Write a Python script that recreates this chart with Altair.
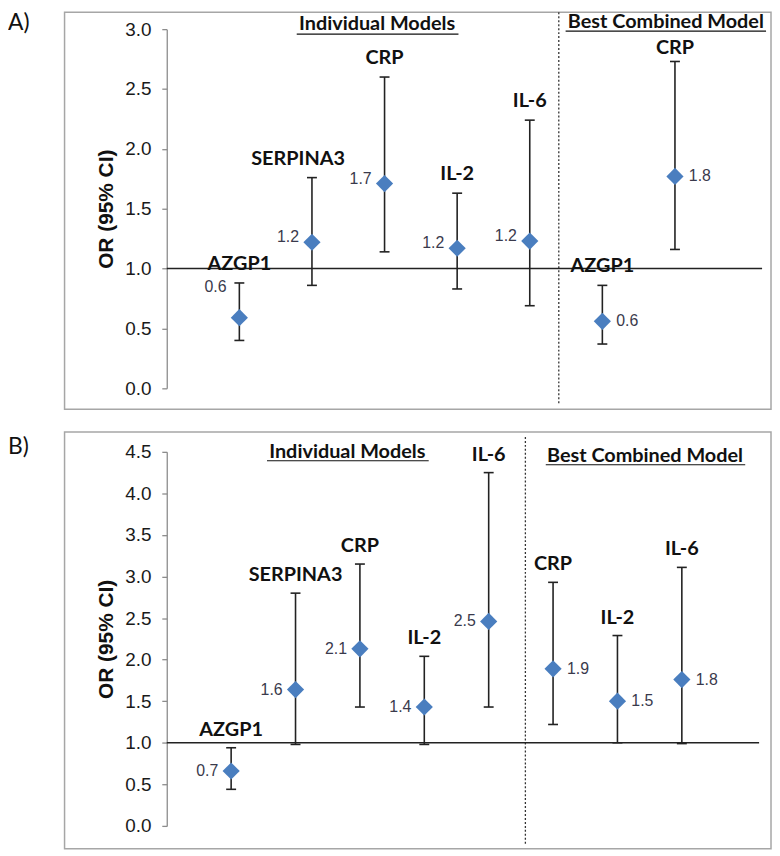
import altair as alt
import pandas as pd

# ---------------- data ----------------
A_names = ["AZGP1", "SERPINA3", "CRP", "IL-2", "IL-6", "AZGP1", "CRP"]
A_or = [0.59, 1.22, 1.71, 1.17, 1.23, 0.56, 1.77]
A_lo = [0.40, 0.86, 1.14, 0.83, 0.69, 0.37, 1.16]
A_hi = [0.88, 1.76, 2.60, 1.63, 2.24, 0.86, 2.73]
A_n_individual = 5

B_names = ["AZGP1", "SERPINA3", "CRP", "IL-2", "IL-6", "CRP", "IL-2", "IL-6"]
B_or = [0.66, 1.64, 2.13, 1.43, 2.46, 1.89, 1.50, 1.76]
B_lo = [0.44, 0.98, 1.43, 0.98, 1.43, 1.22, 1.00, 0.99]
B_hi = [0.94, 2.80, 3.15, 2.04, 4.25, 2.93, 2.29, 3.11]
B_n_individual = 5

A_ticks = [0.0, 0.5, 1.0, 1.5, 2.0, 2.5, 3.0]
B_ticks = [0.0, 0.5, 1.0, 1.5, 2.0, 2.5, 3.0, 3.5, 4.0, 4.5]

HEADER_IND = "Individual Models"
HEADER_COMB = "Best Combined Model"
Y_TITLE = "OR (95% CI)"

BOLD_FONT = "Lato"
NUM_FONT = "Liberation Sans"
BLUE = "#4a7ebf"
DARK = "#222222"


def panel(letter, names, orv, lo, hi, n_ind, ticks, xmax, width, height,
          border, dash_x, dash_y, hdr, letter_y, name_dy, ind_dy, special_first,
          name_adjust):
    df = pd.DataFrame({
        "name": names,
        "or": orv,
        "lo": lo,
        "hi": hi,
        "x": list(range(1, len(names) + 1)),
        "group": ["Individual" if i < n_ind else "Combined" for i in range(len(names))],
        "idx": list(range(len(names))),
    })
    ymax = ticks[-1]
    xs = alt.Scale(domain=[0, xmax], nice=False, zero=False)
    ys = alt.Scale(domain=[0, ymax], nice=False)
    yaxis = alt.Axis(values=ticks, format=".1f", title=Y_TITLE, grid=False,
                     labelFont=NUM_FONT, labelFontSize=19, labelColor="#1a1a1a",
                     labelPadding=11, tickSize=5, tickColor="#8c8c8c",
                     domainColor="#8c8c8c", domainWidth=1.3, tickWidth=1.3,
                     titleFont=NUM_FONT, titleFontSize=21, titleFontWeight="bold",
                     titleColor="#111111", titlePadding=8)

    def X(f="x"):
        return alt.X(f"{f}:Q", scale=xs, axis=None)

    def Y(f):
        return alt.Y(f"{f}:Q", scale=ys, axis=yaxis)

    base = alt.Chart(df)
    one = alt.Chart(pd.DataFrame({"k": [0]}))

    bx0, bx1, by0, by1 = border
    border_l = one.mark_rect(fillOpacity=0, stroke="#a6a6a6", strokeWidth=1.5).encode(
        x=alt.value(bx0), x2=alt.value(bx1), y=alt.value(by0), y2=alt.value(by1))

    dash = one.mark_rule(color="#333333", strokeWidth=1.3, strokeDash=[2, 2]).encode(
        x=alt.X(datum=dash_x, scale=xs, axis=None),
        y=alt.value(dash_y[0]), y2=alt.value(dash_y[1]))

    hline = one.mark_rule(color=DARK, strokeWidth=1.5).encode(
        y=alt.Y(datum=1.0, scale=ys, axis=yaxis),
        x=alt.value(0), x2=alt.value(width))

    bars = base.mark_rule(color=DARK, strokeWidth=1.6).encode(
        x=X(), y=Y("lo"), y2="hi:Q")
    cap_lo = base.mark_rule(color=DARK, strokeWidth=1.6, xOffset=-5, x2Offset=5).encode(
        x=X(), x2="x:Q", y=Y("lo"))
    cap_hi = base.mark_rule(color=DARK, strokeWidth=1.6, xOffset=-5, x2Offset=5).encode(
        x=X(), x2="x:Q", y=Y("hi"))

    pts = base.mark_point(shape="diamond", filled=True, size=300, color=BLUE,
                          opacity=1).encode(x=X(), y=Y("or"))

    lab_style = dict(font=NUM_FONT, fontSize=16, color="#3a3a4c", baseline="middle")
    if special_first:
        ind_filter = "datum.group == 'Individual' && datum.idx > 0"
    else:
        ind_filter = "datum.group == 'Individual'"
    val_ind = base.transform_filter(ind_filter).mark_text(
        align="right", dx=-13, dy=ind_dy, **lab_style).encode(
        x=X(), y=Y("or"), text=alt.Text("or:Q", format=".1f"))
    val_comb = base.transform_filter("datum.group == 'Combined'").mark_text(
        align="left", dx=14, **lab_style).encode(
        x=X(), y=Y("or"), text=alt.Text("or:Q", format=".1f"))
    layers_extra = []
    if special_first:
        layers_extra.append(base.transform_filter("datum.idx == 0").mark_text(
            align="right", dx=-13, dy=4, **lab_style).encode(
            x=X(), y=Y("hi"), text=alt.Text("or:Q", format=".1f")))

    name_style = dict(font=BOLD_FONT, fontSize=20, fontWeight="bold", color="#111111",
                      baseline="middle", align="center")
    special_idx = list(name_adjust.keys())
    if special_idx:
        cond = " && ".join(f"datum.idx != {i}" for i in special_idx)
        name_layers = [base.transform_filter(cond).mark_text(
            dy=name_dy, **name_style).encode(x=X(), y=Y("hi"), text="name:N")]
    else:
        name_layers = [base.mark_text(dy=name_dy, **name_style).encode(
            x=X(), y=Y("hi"), text="name:N")]
    for i, (ddx, ddy) in name_adjust.items():
        name_layers.append(base.transform_filter(f"datum.idx == {i}").mark_text(
            dx=ddx, dy=ddy, **name_style).encode(x=X(), y=Y("hi"), text="name:N"))

    hdr_style = dict(font=BOLD_FONT, fontSize=20, fontWeight="bold", color="#111111",
                     baseline="middle", align="center")
    (ix, iy, iu0, iu1, iuy), (cx, cy, cu0, cu1, cuy) = hdr
    h1 = one.mark_text(text=HEADER_IND, **hdr_style).encode(x=alt.value(ix), y=alt.value(iy))
    h2 = one.mark_text(text=HEADER_COMB, **hdr_style).encode(x=alt.value(cx), y=alt.value(cy))
    u1 = one.mark_rule(color="#111111", strokeWidth=1.2).encode(
        x=alt.value(iu0), x2=alt.value(iu1), y=alt.value(iuy))
    u2 = one.mark_rule(color="#111111", strokeWidth=1.2).encode(
        x=alt.value(cu0), x2=alt.value(cu1), y=alt.value(cuy))

    let = one.mark_text(text=letter, font=BOLD_FONT, fontSize=23, color="#111111",
                        align="left", baseline="middle").encode(
        x=alt.value(-160), y=alt.value(letter_y))

    return alt.layer(border_l, dash, hline, bars, cap_lo, cap_hi, pts,
                     val_ind, val_comb, *layers_extra, *name_layers,
                     h1, h2, u1, u2, let).properties(width=width, height=height)


chart_a = panel("A)", A_names, A_or, A_lo, A_hi, A_n_individual, A_ticks,
                xmax=8.2, width=600, height=362,
                border=(-103, 609, -17, 383), dash_x=5.4, dash_y=(-17, 378),
                hdr=((212, -5, 131, 294, 5), (503, -7, 402, 604, 2)),
                letter_y=-6, name_dy=-19, ind_dy=-5, special_first=True,
                name_adjust={1: (-14, -19), 6: (0, -14)})

chart_b = panel("B)", B_names, B_or, B_lo, B_hi, B_n_individual, B_ticks,
                xmax=9.2, width=597, height=377,
                border=(-103, 609, -20, 400), dash_x=5.57, dash_y=(-15, 397),
                hdr=((182, 0, 101, 264, 9), (482, 4, 382, 583, 13)),
                letter_y=-5, name_dy=-18, ind_dy=0, special_first=False,
                name_adjust={})

chart = alt.vconcat(chart_a, chart_b, spacing=21).properties(
    padding=0).configure_view(strokeWidth=0)

chart.save("out.html", embed_options={"renderer": "svg", "actions": False})
